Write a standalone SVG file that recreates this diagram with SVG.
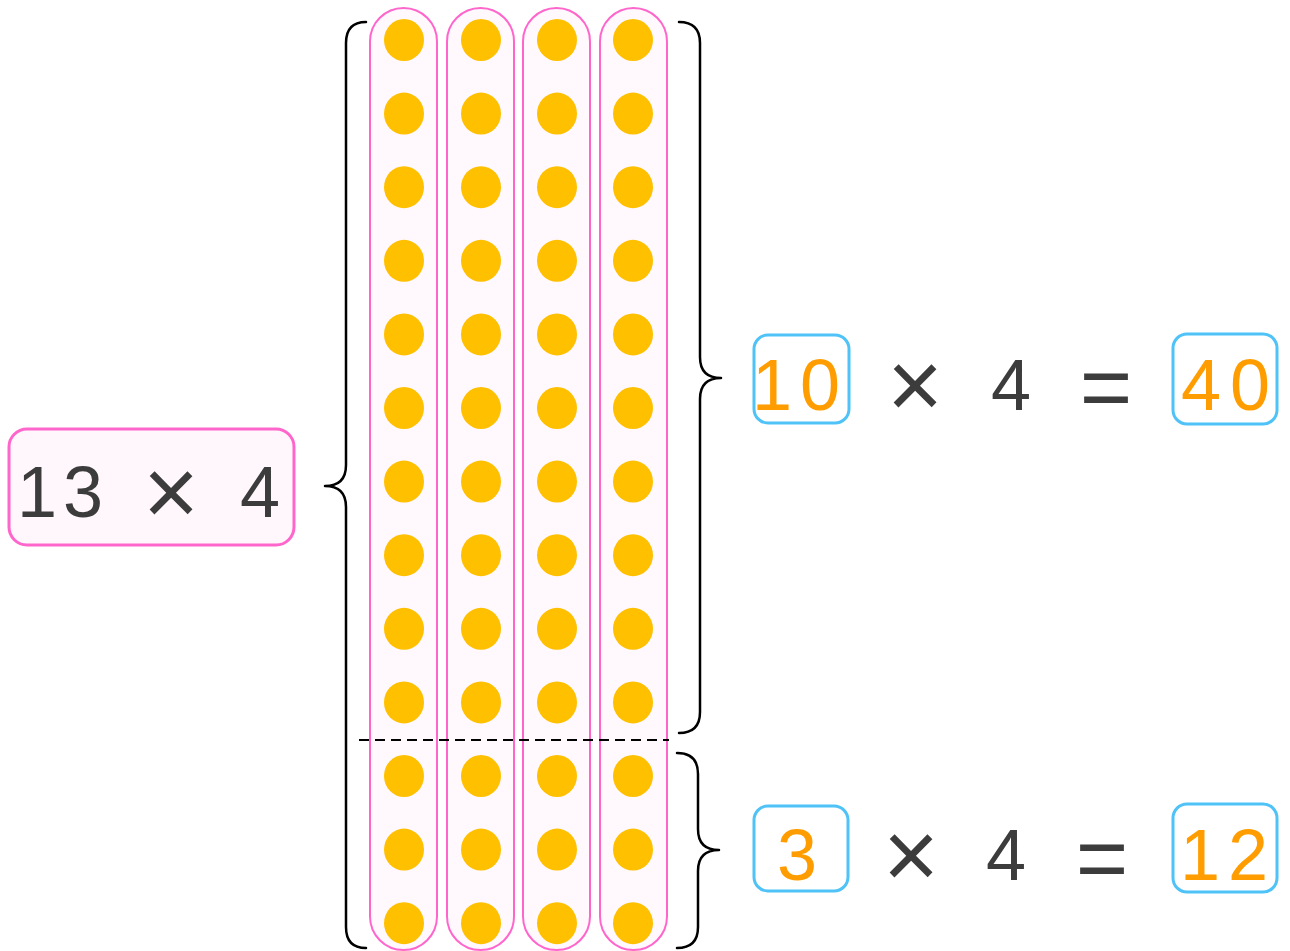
<svg xmlns="http://www.w3.org/2000/svg" width="1290" height="951" viewBox="0 0 1290 951">
<style>
.cap{fill:#fff8fd;stroke:#ff66cc;stroke-width:2}
.dot{fill:#ffc000}
.brace{fill:none;stroke:#000;stroke-width:2.5;stroke-linecap:round;stroke-linejoin:round}
.dash{fill:none;stroke:#000;stroke-width:2.2;stroke-dasharray:10 6}
.t{font-family:"Liberation Sans",Arial,sans-serif;font-size:72px;text-anchor:middle}
.x{font-size:96px}
.eq{font-size:90px}
.dark{fill:#3c3c3c}
.org{fill:#ff9d00}
.bbox{fill:#fff;stroke:#4fc3f7;stroke-width:3}
</style>
<defs>
<g id="col">
<ellipse class="dot" cx="0" cy="40" rx="20" ry="21"/>
<ellipse class="dot" cx="0" cy="113.6" rx="20" ry="21"/>
<ellipse class="dot" cx="0" cy="187.2" rx="20" ry="21"/>
<ellipse class="dot" cx="0" cy="260.8" rx="20" ry="21"/>
<ellipse class="dot" cx="0" cy="334.4" rx="20" ry="21"/>
<ellipse class="dot" cx="0" cy="408" rx="20" ry="21"/>
<ellipse class="dot" cx="0" cy="481.6" rx="20" ry="21"/>
<ellipse class="dot" cx="0" cy="555.2" rx="20" ry="21"/>
<ellipse class="dot" cx="0" cy="628.8" rx="20" ry="21"/>
<ellipse class="dot" cx="0" cy="702.4" rx="20" ry="21"/>
<ellipse class="dot" cx="0" cy="776" rx="20" ry="21"/>
<ellipse class="dot" cx="0" cy="849.6" rx="20" ry="21"/>
<ellipse class="dot" cx="0" cy="923.2" rx="20" ry="21"/>
</g>
</defs>
<g id="expr-13x4">
<rect x="9" y="429" width="285" height="116" rx="18" fill="#fff7fc" stroke="#ff66cc" stroke-width="3"/>
<text class="t dark" y="517"><tspan x="37">1</tspan><tspan x="83">3</tspan><tspan class="x" x="171" y="525"> × </tspan><tspan x="260" y="517">4</tspan></text>
</g>
<g id="column-1"><rect class="cap" x="370" y="8" width="67" height="942" rx="33.5"/><use href="#col" x="404"/></g>
<g id="column-2"><rect class="cap" x="447" y="8" width="67" height="942" rx="33.5"/><use href="#col" x="481"/></g>
<g id="column-3"><rect class="cap" x="523" y="8" width="67" height="942" rx="33.5"/><use href="#col" x="557"/></g>
<g id="column-4"><rect class="cap" x="600" y="8" width="67" height="942" rx="33.5"/><use href="#col" x="633"/></g>
<g id="connectors">
<path class="dash" d="M359 740 H669"/>
<path class="brace" d="M366 22 Q346 22 346 43 L346 465 Q346 486 325 486 Q346 486 346 507 L346 927 Q346 948 366 948"/>
<path class="brace" d="M679 22 Q700 22 700 43 L700 357 Q700 378 721 378 Q700 378 700 399 L700 712 Q700 733 679 733"/>
<path class="brace" d="M677 753 Q698 753 698 774 L698 829 Q698 850 719 850 Q698 850 698 871 L698 927 Q698 948 677 948"/>
</g>
<g id="expr-10x4">
<rect class="bbox" x="754" y="335" width="95" height="88" rx="14"/>
<rect class="bbox" x="1173" y="334" width="104" height="90" rx="14"/>
<text class="t" y="410"><tspan class="org" x="772">1</tspan><tspan class="org" x="820">0</tspan><tspan class="dark x" x="915" y="418"> × </tspan><tspan class="dark" x="1011" y="410">4</tspan><tspan class="dark eq" x="1106" y="418"> = </tspan><tspan class="org" x="1201" y="410">4</tspan><tspan class="org" x="1250">0</tspan></text>
</g>
<g id="expr-3x4">
<rect class="bbox" x="754" y="806" width="94" height="85" rx="14"/>
<rect class="bbox" x="1173" y="804" width="104" height="88" rx="14"/>
<text class="t" y="880"><tspan class="org" x="797">3</tspan><tspan class="dark x" x="911" y="888"> × </tspan><tspan class="dark" x="1006" y="880">4</tspan><tspan class="dark eq" x="1102" y="889"> = </tspan><tspan class="org" x="1200" y="880">1</tspan><tspan class="org" x="1248">2</tspan></text>
</g>
</svg>
